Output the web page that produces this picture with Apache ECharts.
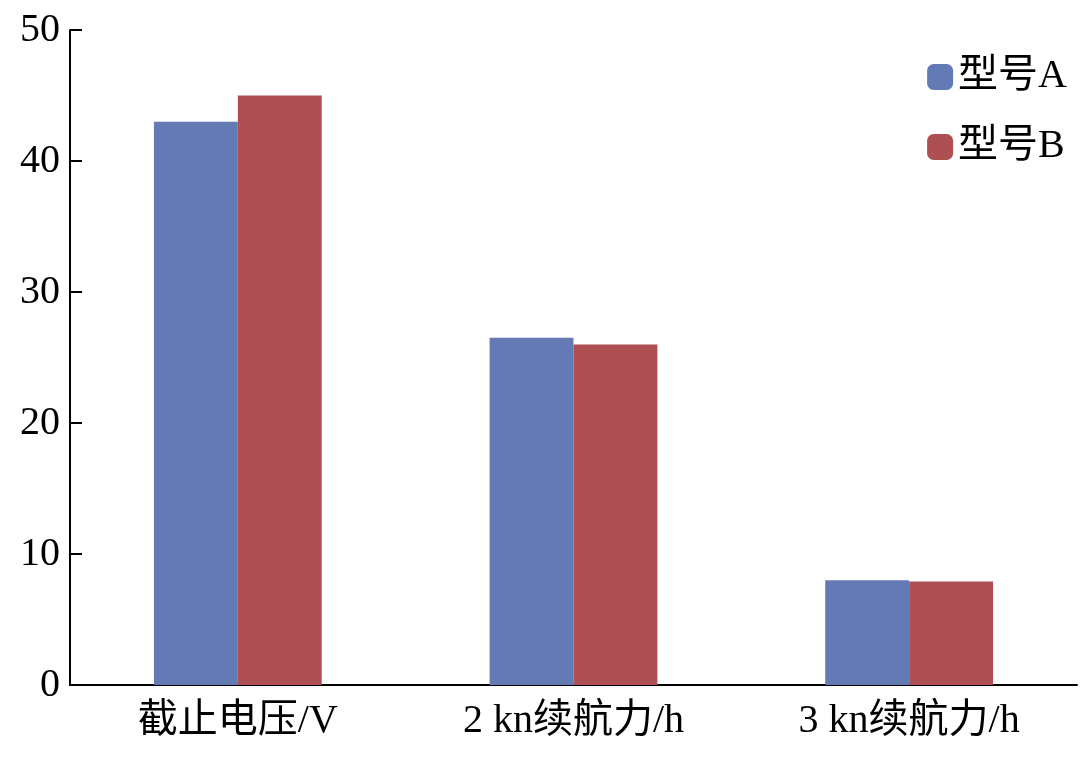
<!DOCTYPE html>
<html><head><meta charset="utf-8">
<script src="https://cdn.jsdelivr.net/npm/echarts@6/dist/echarts.min.js"></script>
<style>html,body{margin:0;padding:0;background:#fff}#c{width:1080px;height:771px}</style>
</head><body><div id="c"></div>
<script>
const categories = ['截止电压/V', '2 kn续航力/h', '3 kn续航力/h'];
const seriesA = [43, 26.5, 8.0];
const seriesB = [45, 26.0, 7.9];
const yTicks = [0, 10, 20, 30, 40, 50];
const font = "'Liberation Serif','Noto Sans CJK SC',serif";
const chart = echarts.init(document.getElementById('c'));
chart.setOption({
  animation: false,
  grid: {left: 70, right: 3, top: 30, bottom: 86},
  legend: {
    orient: 'vertical', right: 8, top: 52, itemWidth: 26, itemHeight: 26, itemGap: 30,
    textStyle: {fontFamily: font, fontSize: 40, color: '#000'},
    data: ['型号A', '型号B']
  },
  xAxis: {
    type: 'category', data: categories,
    axisLine: {lineStyle: {color: '#000', width: 2}},
    axisTick: {inside: true, length: 14, lineStyle: {color: '#000', width: 2}},
    axisLabel: {fontFamily: font, fontSize: 40, color: '#000', margin: 16}
  },
  yAxis: {
    type: 'value', min: 0, max: 50, interval: 10,
    splitLine: {show: false},
    axisLine: {show: true, lineStyle: {color: '#000', width: 2}},
    axisTick: {show: true, inside: true, length: 12, lineStyle: {color: '#000', width: 2}},
    axisLabel: {fontFamily: font, fontSize: 40, color: '#000', margin: 10,
      formatter: v => yTicks.includes(v) ? String(v) : ''}
  },
  series: [
    {name: '型号A', type: 'bar', data: seriesA, barGap: '0%', barCategoryGap: '50%', itemStyle: {color: '#647ab5'}},
    {name: '型号B', type: 'bar', data: seriesB, itemStyle: {color: '#ad4f53'}}
  ]
});
</script></body></html>
